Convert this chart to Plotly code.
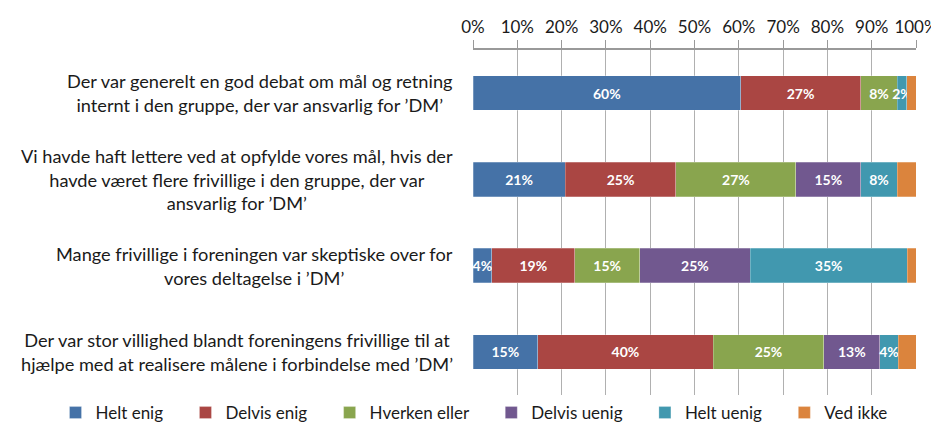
import plotly.graph_objects as go

categories = [
    "Der var generelt en god debat om mål og retning<br>internt i den gruppe, der var ansvarlig for ’DM’",
    "Vi havde haft lettere ved at opfylde vores mål, hvis der<br>havde været flere frivillige i den gruppe, der var<br>ansvarlig for ’DM’",
    "Mange frivillige i foreningen var skeptiske over for<br>vores deltagelse i ’DM’",
    "Der var stor villighed blandt foreningens frivillige til at<br>hjælpe med at realisere målene i forbindelse med ’DM’",
]
series_names = ["Helt enig", "Delvis enig", "Hverken eller", "Delvis uenig", "Helt uenig", "Ved ikke"]
helt_enig = [60.4, 20.8, 4.2, 14.6]
delvis_enig = [27.1, 25.0, 18.8, 39.6]
hverken_eller = [8.3, 27.1, 14.6, 25.0]
delvis_uenig = [0.0, 14.6, 25.0, 12.6]
helt_uenig = [2.1, 8.3, 35.4, 4.2]
ved_ikke = [2.1, 4.2, 2.1, 4.2]
tick_values = [0, 10, 20, 30, 40, 50, 60, 70, 80, 90, 100]
tick_labels = ["0%", "10%", "20%", "30%", "40%", "50%", "60%", "70%", "80%", "90%", "100%"]

colors = ["#4572A7", "#AA4643", "#89A54E", "#71588F", "#4198AF", "#DB843D"]
all_series = [helt_enig, delvis_enig, hverken_eller, delvis_uenig, helt_uenig, ved_ikke]
show_labels = [True, True, True, True, True, False]

FONT = "Lato"
W, H = 931, 416  # page has 8px body margin
L, R, T, B = 465, 23, 42, 29
PW = W - L - R
PH = H - T - B
LEGEND_PAD = "\u00a0" * 4  # spacing after each legend entry

fig = go.Figure()
n_series = len(series_names)
for i, (name, vals, col, show) in enumerate(zip(series_names, all_series, colors, show_labels)):
    texts = [f"{int(v + 0.5)}%" if (show and v > 0) else "" for v in vals]
    legend_name = name + (LEGEND_PAD if i < n_series - 1 else "")
    fig.add_trace(go.Bar(
        name=legend_name, y=categories, x=vals, orientation="h",
        marker=dict(color=col, line=dict(color="rgba(255,255,255,0.5)", width=0.5)),
        text=texts, textposition="inside", insidetextanchor="middle",
        constraintext="none", cliponaxis=False, textangle=0,
        textfont=dict(family=FONT, size=14, color="white", weight="bold"),
    ))

for c in categories:
    fig.add_annotation(
        text=c, xref="paper", yref="y", x=-18 / PW, y=c,
        xanchor="right", yanchor="middle", align="center", showarrow=False,
        font=dict(family=FONT, size=18.2, color="#1a1a1a"),
    )

fig.update_layout(
    barmode="stack", bargap=0.6,
    width=W, height=H,
    margin=dict(l=L, r=R, t=T, b=B, autoexpand=False),
    paper_bgcolor="white", plot_bgcolor="white",
    font=dict(family=FONT, size=16, color="#1a1a1a"),
    showlegend=True,
    legend=dict(orientation="h", xref="paper", yref="paper",
                x=(47.5 - L) / PW, xanchor="left", y=-18 / PH, yanchor="middle",
                font=dict(family=FONT, size=17, color="#1a1a1a"),
                itemwidth=30, traceorder="normal"),
)
fig.update_xaxes(
    side="top", range=[0, 100], tickvals=tick_values, ticktext=tick_labels,
    showgrid=True, gridcolor="#b0b0b0", gridwidth=1,
    showline=True, linecolor="#999999", linewidth=1.5,
    ticks="outside", ticklen=8, tickcolor="#999999", zeroline=False,
    automargin=False,
    tickfont=dict(family=FONT, size=17, color="#1a1a1a"),
)
fig.update_yaxes(autorange="reversed", showticklabels=False, showgrid=False,
                 zeroline=False, automargin=False)

fig.write_html("out.html")
